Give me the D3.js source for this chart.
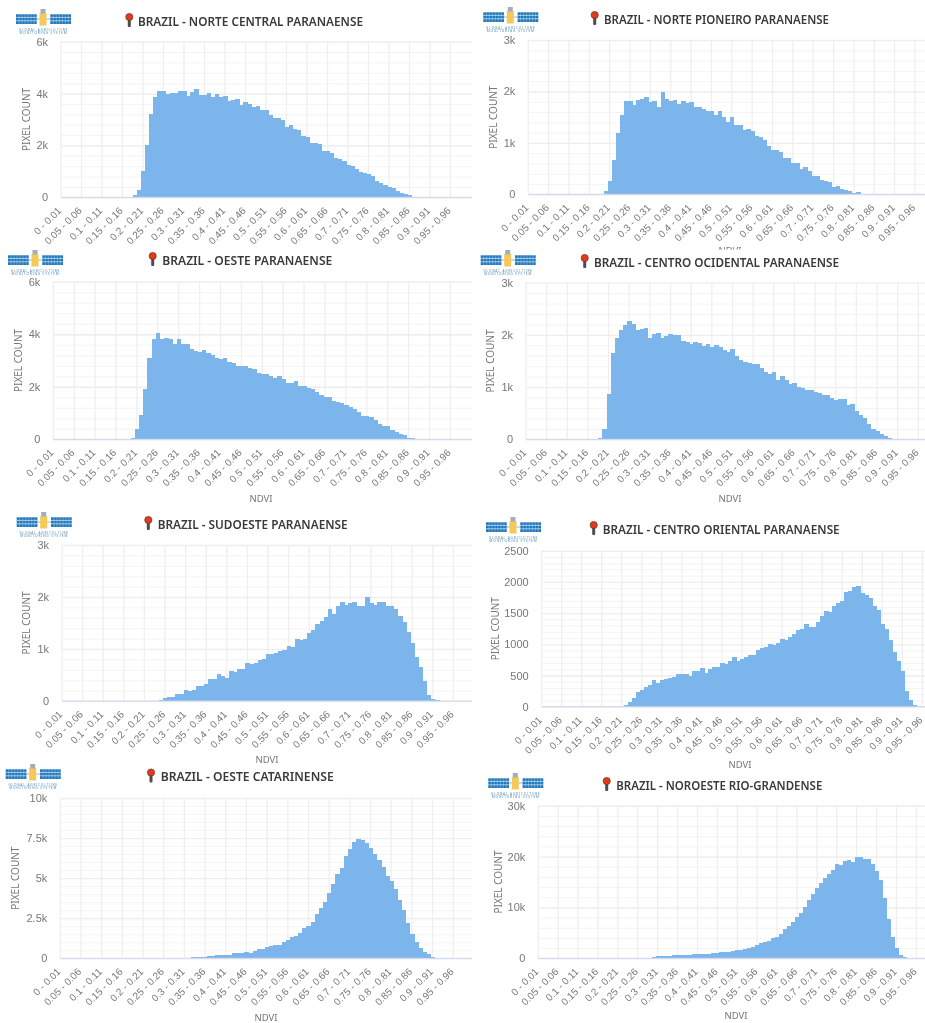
<!DOCTYPE html>
<html>
<head>
<meta charset="utf-8">
<script src="https://cdn.jsdelivr.net/npm/d3@7"></script>
<style>
    html, body { margin: 0; padding: 0; background: white; overflow: hidden; }
    svg { display: block; font-family: "Noto Sans", sans-serif; filter: blur(0.45px); }
</style>
</head>
<body>
<div id="container"></div>
<script>
let w = 925;
let h = 1023;

// tick labels, one for every fifth bin
let binLabels = ["0 - 0.01", "0.05 - 0.06", "0.1 - 0.11", "0.15 - 0.16", "0.2 - 0.21", "0.25 - 0.26", "0.3 - 0.31", "0.35 - 0.36", "0.4 - 0.41", "0.45 - 0.46", "0.5 - 0.51", "0.55 - 0.56", "0.6 - 0.61", "0.65 - 0.66", "0.7 - 0.71", "0.75 - 0.76", "0.8 - 0.81", "0.85 - 0.86", "0.9 - 0.91", "0.95 - 0.96"];

// DATA. every list starts at bin 0 - 0.01, bins not listed are 0
let norteCentral = [0,0,0,0,0,0,0,0,0,0,0,0,0,0,0,0,0,0,100,300,1000,2000,3200,3850,4080,4080,4000,4020,4040,4080,4100,3900,4050,4170,3960,3960,4020,3850,3970,3850,3900,3700,3750,3780,3570,3690,3580,3480,3510,3370,3370,3160,3070,3040,2970,2720,2790,2650,2580,2370,2340,2100,2080,2050,1790,1770,1720,1530,1470,1410,1260,1200,1100,960,930,900,840,640,550,490,400,370,260,170,110,70];
let nortePioneiro = [0,0,0,0,0,0,0,0,0,0,0,0,0,0,0,0,0,0,0,65,250,670,1190,1550,1820,1820,1730,1830,1860,1900,1800,1810,1690,1990,1850,1810,1830,1760,1820,1780,1790,1700,1700,1650,1610,1610,1540,1610,1510,1410,1510,1340,1340,1250,1270,1240,1130,1120,1060,940,860,860,820,710,700,600,600,500,530,450,360,350,270,260,240,140,170,110,80,60,20,40];
let oeste = [0,0,0,0,0,0,0,0,0,0,0,0,0,0,0,0,0,0,0,60,400,910,1930,3110,3800,4050,3800,3840,3820,3640,3820,3630,3630,3440,3380,3320,3390,3290,3220,3110,3050,3080,2930,2890,2800,2780,2780,2720,2680,2530,2490,2480,2410,2350,2400,2280,2160,2130,2210,2030,2030,1940,1900,1810,1690,1620,1620,1470,1420,1380,1310,1240,1150,1030,900,880,850,750,580,520,520,360,290,200,150,50,40,25];
let centroOcidental = [0,0,0,0,0,0,0,0,0,0,0,0,0,0,0,0,0,0,20,200,875,1660,1950,2100,2190,2270,2200,2090,2120,2140,1940,2020,2030,1950,1980,2020,2000,2000,1890,1860,1830,1860,1840,1790,1830,1770,1800,1760,1710,1670,1730,1600,1520,1490,1460,1450,1440,1370,1290,1260,1280,1140,1220,1130,1050,1070,1010,990,940,940,910,880,840,840,800,750,770,770,660,680,540,470,410,290,190,150,100,60,20];
let sudoeste = [0,0,0,0,0,0,0,0,0,0,0,0,0,0,0,0,0,0,0,0,0,0,0,0,20,50,70,85,130,140,220,200,210,290,295,330,420,420,520,490,440,570,560,620,620,740,720,740,790,810,900,900,920,960,990,1060,1030,1200,1180,1200,1310,1370,1490,1530,1620,1760,1680,1830,1910,1850,1880,1900,1830,1830,2000,1880,1850,1900,1900,1820,1820,1760,1640,1520,1320,1110,850,650,380,115,30,10];
let centroOriental = [0,0,0,0,0,0,0,0,0,0,0,0,0,0,0,0,0,0,0,0,0,20,70,140,235,265,310,350,420,385,420,450,460,475,530,520,530,500,570,570,615,545,600,635,635,700,690,725,795,735,770,800,825,825,915,940,950,1005,995,1025,1085,1065,1120,1165,1225,1245,1320,1275,1285,1350,1460,1530,1510,1610,1655,1695,1840,1860,1915,1940,1830,1790,1735,1620,1550,1320,1245,1065,880,730,570,245,105,20];
let oesteCatarinense = [0,0,0,0,0,0,0,0,0,0,0,0,0,0,0,0,0,0,0,0,0,0,0,0,0,0,0,0,0,0,0,0,60,70,80,110,130,170,190,210,230,230,310,330,350,400,360,480,560,570,700,770,810,860,1000,1160,1310,1400,1600,1870,2040,2270,2770,3120,3510,4070,4620,5260,5650,6400,6800,7280,7420,7360,7200,6880,6500,6150,5700,5160,4800,4350,3660,3010,2200,1520,1000,640,400,250,100,20];
let noroesteRio = [0,0,0,0,0,0,0,0,0,0,0,0,0,0,0,0,0,0,0,0,0,0,0,0,0,0,0,0,130,300,400,450,520,520,650,600,650,680,700,780,790,850,900,920,950,1050,1180,1200,1300,1380,1650,1720,1830,1960,2160,2620,2950,3200,3340,3930,4260,4850,5760,6350,7070,8120,8900,10100,11460,12700,13880,14800,15780,16570,17420,18470,18400,19060,19380,18990,19970,19840,19510,19510,18600,17220,15320,11850,7660,4190,1960,590,200];

let seriesList = [norteCentral, nortePioneiro, oeste, centroOcidental, sudoeste, centroOriental, oesteCatarinense, noroesteRio];
let titles = ["BRAZIL - NORTE CENTRAL PARANAENSE", "BRAZIL - NORTE PIONEIRO PARANAENSE", "BRAZIL - OESTE PARANAENSE", "BRAZIL - CENTRO OCIDENTAL PARANAENSE", "BRAZIL - SUDOESTE PARANAENSE", "BRAZIL - CENTRO ORIENTAL PARANAENSE", "BRAZIL - OESTE CATARINENSE", "BRAZIL - NOROESTE RIO-GRANDENSE"];
let yTicks = [[0, 2000, 4000, 6000], [0, 1000, 2000, 3000], [0, 2000, 4000, 6000], [0, 1000, 2000, 3000], [0, 1000, 2000, 3000], [0, 500, 1000, 1500, 2000, 2500], [0, 2500, 5000, 7500, 10000], [0, 10000, 20000, 30000]];
let yLabels = [["0", "2k", "4k", "6k"], ["0", "1k", "2k", "3k"], ["0", "2k", "4k", "6k"], ["0", "1k", "2k", "3k"], ["0", "1k", "2k", "3k"], ["0", "500", "1000", "1500", "2000", "2500"], ["0", "2.5k", "5k", "7.5k", "10k"], ["0", "10k", "20k", "30k"]];

// where each pasted screenshot sits on the page. the first one has its NDVI covered by the next panel
let panels = [
    {bgX: 0,   bgY: 0,   right: 472, x0: 61,    step: 4.10,  top: 41.7,  bottom: 197.3, logoX: 16,    logoY: 9,   pinX: 129.3, titleX: 138,   titleY: 25.5, titleW: 225, yTitleX: 26,    xTitleX: null, xTitleY: null},
    {bgX: 472, bgY: 0,   right: 925, x0: 528.3, step: 4.07,  top: 40,    bottom: 194.3, logoX: 483.3, logoY: 7,   pinX: 594.7, titleX: 604,   titleY: 23.5, titleW: 225, yTitleX: 493,   xTitleX: 730, xTitleY: 254},
    {bgX: 0,   bgY: 249, right: 472, x0: 53.3,  step: 4.18,  top: 281.7, bottom: 439.3, logoX: 8,     logoY: 250, pinX: 152.7, titleX: 162.3, titleY: 264.5, titleW: 170, yTitleX: 18,    xTitleX: 261, xTitleY: 502},
    {bgX: 472, bgY: 249.5, right: 925, x0: 526, step: 4.13,  top: 282.7, bottom: 439.3, logoX: 480.7, logoY: 250, pinX: 584.7, titleX: 594,   titleY: 266.5, titleW: 245, yTitleX: 490.7, xTitleX: 730, xTitleY: 502},
    {bgX: 0,   bgY: 510, right: 472, x0: 62,    step: 4.12,  top: 545,   bottom: 701,   logoX: 16.7,  logoY: 512, pinX: 148.3, titleX: 157.7, titleY: 528.5, titleW: 190, yTitleX: 26.7,  xTitleX: 267, xTitleY: 763},
    {bgX: 472, bgY: 515, right: 925, x0: 541.7, step: 4.006, top: 550.7, bottom: 706.7, logoX: 486,   logoY: 517, pinX: 593.7, titleX: 602.7, titleY: 533.5, titleW: 237, yTitleX: 495,   xTitleX: 740, xTitleY: 768},
    {bgX: 0,   bgY: 763, right: 472, x0: 60.3,  step: 4.137, top: 798,   bottom: 958.3, logoX: 5.7,   logoY: 764, pinX: 151,   titleX: 160.7, titleY: 781, titleW: 173, yTitleX: 15.7,  xTitleX: 266, xTitleY: 1021},
    {bgX: 472, bgY: 770, right: 925, x0: 538.3, step: 3.98,  top: 805.7, bottom: 958.3, logoX: 488.3, logoY: 773, pinX: 606.7, titleX: 616.3, titleY: 789.5, titleW: 206, yTitleX: 498,   xTitleX: 736, xTitleY: 1019},
];

let viz = d3.select("#container").append("svg")
    .attr("width", w)
    .attr("height", h)
    .style("background-color", "white");

function drawLogo(g) {
    let panel = g.append("g");
    [0, 34.3].forEach((px) => {
        panel.append("rect").attr("x", px).attr("y", 5.3).attr("width", 20.7).attr("height", 9.7).attr("fill", "#1f78bd");
        d3.range(1, 7).forEach((k) => {
            panel.append("line").attr("x1", px + k * 3).attr("x2", px + k * 3).attr("y1", 5.3).attr("y2", 15)
                .attr("stroke", "white").attr("stroke-width", 0.3);
        });
        [8.4, 11.8].forEach((ly) => {
            panel.append("line").attr("x1", px).attr("x2", px + 20.7).attr("y1", ly).attr("y2", ly)
                .attr("stroke", "white").attr("stroke-width", 0.6);
        });
    });
    g.append("line").attr("x1", 20).attr("x2", 35).attr("y1", 10).attr("y2", 10).attr("stroke", "#8aa4b8").attr("stroke-width", 0.8);
    g.append("rect").attr("x", 23.5).attr("y", 4).attr("width", 7).attr("height", 12.5).attr("fill", "#f6c85a");
    g.append("rect").attr("x", 24.5).attr("y", 0).attr("width", 5).attr("height", 4.5).attr("fill", "#9fb0bd");
    g.selectAll("text.logoText").data(["GLOBAL AGRICULTURE", "MONITORING SYSTEM"]).enter()
        .append("text")
        .attr("class", "logoText")
        .attr("x", 27.5)
        .attr("y", (d, i) => 21.5 + i * 3.6)
        .attr("text-anchor", "middle")
        .attr("font-size", 3.2)
        .attr("letter-spacing", 0.85)
        .attr("fill", "#4f8bb8")
        .text((d) => d);
}

function drawPin(g) {
    g.append("rect").attr("x", -1.5).attr("y", 16).attr("width", 3).attr("height", 11).attr("rx", 1).attr("fill", "#4d4d4d");
    g.append("circle").attr("cx", 0).attr("cy", 17).attr("r", 3.6).attr("fill", "#e8371a").attr("stroke", "#5a3a30").attr("stroke-width", 0.7);
}

panels.forEach((p, i) => {
    let series = seriesList[i];
    let g = viz.append("g");

    g.append("rect")
        .attr("x", p.bgX).attr("y", p.bgY)
        .attr("width", p.right - p.bgX).attr("height", h - p.bgY)
        .attr("fill", "white");

    // scales, gridlines run through the centre of the bins
    let bins = d3.range(100);
    let xScale = d3.scaleBand()
        .domain(bins)
        .range([p.x0 - p.step / 2, p.x0 + p.step * 99.5])
        .padding(0);
    let yMax = yTicks[i][yTicks[i].length - 1];
    let yScale = d3.scaleLinear().domain([0, yMax]).range([p.bottom, p.top]);
    let plotRight = p.right - p.x0;

    // 5 minor steps to every major step
    let minorStep = yTicks[i][1] / 5;
    let minorGrid = d3.axisLeft(yScale)
        .tickValues(d3.range(0, yMax + 1, minorStep))
        .tickSize(-plotRight)
        .tickFormat("");
    g.append("g")
        .attr("transform", "translate(" + p.x0 + ",0)")
        .call(minorGrid)
        .call((s) => s.select(".domain").remove())
        .call((s) => s.selectAll("line").attr("stroke", "#f4f4f5").attr("stroke-width", 1));

    let xGrid = d3.axisBottom(xScale)
        .tickValues(bins.filter((d) => d % 5 === 0))
        .tickSize(-(p.bottom - p.top))
        .tickFormat("");
    g.append("g")
        .attr("transform", "translate(0," + p.bottom + ")")
        .call(xGrid)
        .call((s) => s.select(".domain").remove())
        .call((s) => s.selectAll("line").attr("stroke", "#efeff1").attr("stroke-width", 1.3));

    let yAxis = d3.axisLeft(yScale)
        .tickValues(yTicks[i])
        .tickSize(-plotRight)
        .tickPadding(13)
        .tickFormat((d, k) => yLabels[i][k]);
    g.append("g")
        .attr("transform", "translate(" + p.x0 + ",0)")
        .call(yAxis)
        .call((s) => s.select(".domain").remove())
        .call((s) => s.selectAll("line").attr("stroke", "#eeeeef").attr("stroke-width", 1.3))
        .call((s) => s.selectAll("text").attr("font-size", 11).attr("fill", "#777"));

    // bars
    g.append("g").selectAll("rect").data(series).enter()
        .append("rect")
        .attr("x", (d, k) => xScale(k))
        .attr("y", (d) => yScale(d))
        .attr("width", xScale.bandwidth() + 0.6)
        .attr("height", (d) => p.bottom - yScale(d))
        .attr("shape-rendering", "crispEdges")
        .attr("fill", "#7cb5ec");

    // baseline and slanted labels
    g.append("line")
        .attr("x1", p.x0).attr("x2", p.right)
        .attr("y1", p.bottom).attr("y2", p.bottom)
        .attr("stroke", "#ccd6eb").attr("stroke-width", 1);

    let xAxis = d3.axisBottom(xScale)
        .tickValues(bins.filter((d) => d % 5 === 0))
        .tickSize(0)
        .tickFormat((d) => binLabels[d / 5]);
    g.append("g")
        .attr("transform", "translate(0," + p.bottom + ")")
        .call(xAxis)
        .call((s) => s.select(".domain").remove())
        .call((s) => s.selectAll("text")
            .attr("font-size", 10)
            .attr("fill", "#777")
            .attr("text-anchor", "end")
            .attr("dy", null)
            .attr("y", 0)
            .attr("transform", "translate(1,14) rotate(-45)"));

    g.append("text")
        .attr("transform", "translate(" + p.yTitleX + "," + (p.top + p.bottom) / 2 + ") rotate(-90)")
        .attr("text-anchor", "middle")
        .attr("dy", "0.35em")
        .attr("font-size", 10)
        .attr("fill", "#777")
        .text("PIXEL COUNT");

    if (p.xTitleX !== null) {
        g.append("text")
            .attr("x", p.xTitleX)
            .attr("y", p.xTitleY)
            .attr("text-anchor", "middle")
            .attr("font-size", 9.5)
            .attr("fill", "#777")
            .text("NDVI");
    }

    g.append("text")
        .attr("x", p.titleX)
        .attr("y", p.titleY)
        .attr("font-size", 13)
        .attr("font-weight", 600)
        .attr("fill", "#3a3a3a")
        .attr("textLength", p.titleW)
        .attr("lengthAdjust", "spacingAndGlyphs")
        .text(titles[i]);

    drawPin(g.append("g").attr("transform", "translate(" + p.pinX + "," + (p.titleY - 25.5) + ")"));
    drawLogo(g.append("g").attr("transform", "translate(" + p.logoX + "," + p.logoY + ")"));
});
</script>
</body>
</html>
